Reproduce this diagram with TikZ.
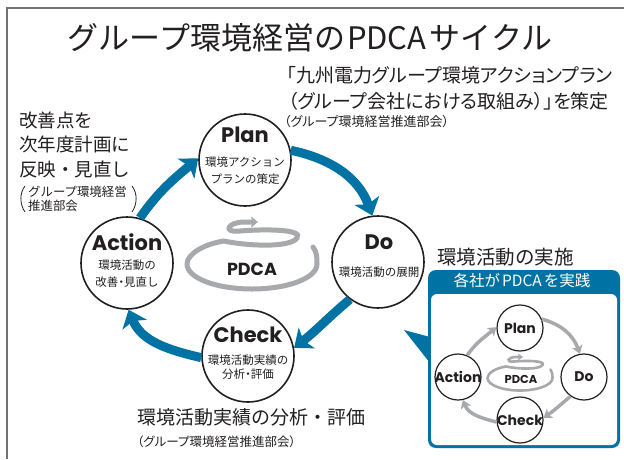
\documentclass[tikz,border=0pt]{standalone}
\usepackage{fontspec}
\setmainfont{Noto Sans CJK JP}
\newfontfamily\pfont{Noto Sans CJK JP}[RawFeature=+palt]
\newfontfamily\popfont{Poppins}
\usetikzlibrary{arrows.meta}
\definecolor{pblue}{RGB}{0,114,163}
\definecolor{sgray}{RGB}{168,169,173}
\definecolor{ink}{RGB}{35,31,32}
\newcommand\myfs[1]{\fontsize{#1}{#1}\selectfont}
\begin{document}
\begin{tikzpicture}[x=1pt,y=1pt,
  bigc/.style={circle,draw=ink,line width=1.6pt,fill=white,minimum size=92pt,inner sep=0pt},
  smallc/.style={circle,draw=ink,line width=1.2pt,fill=white,minimum size=46pt,inner sep=0pt},
  barrow/.style={draw=pblue,line width=9pt,-{Stealth[length=16pt,width=26pt,inset=4pt]}},
  garrow/.style={draw=sgray,line width=3.5pt,-{Stealth[length=8pt,width=11pt,inset=2pt]}},
  spiral/.style={draw=sgray,line width=#1,line cap=round},
  ttl/.style={font=\popfont\bfseries\myfs{21},text=ink,inner sep=0pt},
  sttl/.style={font=\popfont\bfseries\myfs{14},text=ink,inner sep=0pt},
  sub/.style={font=\myfs{11.5},text=ink,inner sep=0pt},
  txt/.style={text=ink,inner sep=0pt}
]
\useasboundingbox (0,0) rectangle (624,-459);
\fill[white] (0,0) rectangle (624,-459);
% frame
\draw[black!55,line width=1.3pt] (7,-459) -- (7,-8) -- (624,-8);

% title and texts
\node[txt,font=\myfs{31}] (title) at (310,-38) {グループ環境経営の\hspace{2pt}PDCA\hspace{3pt}サイクル};
\node[txt,anchor=east,font=\pfont\myfs{19}] (pl1) at (613,-75) {「九州電力グループ環境アクションプラン};
\node[txt,anchor=east,font=\pfont\myfs{19}] (pl2) at (609,-101) {（グループ会社における取組み）」を策定};
\node[txt,anchor=west,font=\pfont\myfs{13}] (pl3) at (284,-122) {（グループ環境経営推進部会）};

\node[txt,anchor=west,font=\myfs{18.5}] (ac1) at (19,-120) {改善点を};
\node[txt,anchor=west,font=\myfs{18.5}] (ac2) at (19,-144) {次年度計画に};
\node[txt,anchor=west,font=\myfs{18.5}] (ac3) at (19,-169) {反映・見直し};
\node[txt,anchor=west,font=\myfs{12.4}] (ac4) at (28,-192) {グループ環境経営};
\node[txt,anchor=west,font=\myfs{12.4}] (ac5) at (28,-205.5) {推進部会};
\draw[ink,line width=0.8pt] (25,-186) .. controls (19.5,-193) and (19.5,-204) .. (25,-212);
\draw[ink,line width=0.8pt] (132,-186) .. controls (137.5,-193) and (137.5,-204) .. (132,-212);

\node[txt,anchor=west,font=\myfs{19}] (ch1) at (137,-417) {環境活動実績の分析・評価};
\node[txt,anchor=west,font=\pfont\myfs{12.5}] (ch2) at (137,-442) {（グループ環境経営推進部会）};

\node[txt,anchor=west,font=\myfs{19.5}] (do1) at (437,-257) {環境活動の実施};

% central spiral
\begin{scope}[shift={(252,-264)}]
\draw[spiral=5pt,-{Stealth[length=7pt,width=11pt,inset=1.5pt]}]
  (61,17) .. controls (65,12) and (65,6) .. (65,0)
  .. controls (65,-14) and (36,-25) .. (0,-25)
  .. controls (-36,-25) and (-65,-14) .. (-65,0)
  .. controls (-65,10) and (-48,20) .. (-28,23)
  .. controls (-5,18) and (38,16) .. (45,26)
  .. controls (52,35) and (12,35) .. (-12,33)
  .. controls (-30,31) and (-24,42) .. (-8,42)
  -- (6,42);
\end{scope}
\node[txt,font=\popfont\bfseries\myfs{17.5}] (pdca) at (252,-269) {PDCA};

% big circles
\node[bigc] (plan) at (245,-160) {};
\node[bigc] (action) at (127,-263) {};
\node[bigc] (do) at (378,-262) {};
\node[bigc] (check) at (248,-356) {};

\node[ttl] (planT) at (245,-135) {Plan};
\node[sub] (planS1) at (245,-162) {環境アクション};
\node[sub] (planS2) at (245,-179) {プランの策定};
\node[ttl] (actionT) at (127,-242) {Action};
\node[sub] (actionS1) at (127,-265) {環境活動の};
\node[sub] (actionS2) at (127,-282) {改善{\pfont ・}見直し};
\node[ttl] (doT) at (379,-242) {Do};
\node[sub] (doS1) at (379,-272) {環境活動の展開};
\node[ttl] (checkT) at (248,-335) {Check};
\node[sub] (checkS1) at (248,-360.5) {環境活動実績の};
\node[sub] (checkS2) at (248,-374) {分析{\pfont ・}評価};

% blue arrows
\draw[barrow] (action.74) to[out=55,in=220] (plan.178);
\draw[barrow] (plan.12) to[out=-12,in=110] (do.97);
\draw[barrow] (do.233) to[out=220,in=38] (check.10);
\draw[barrow] (check.182) to[out=167,in=-68] (action.272);

% inset box
\fill[pblue] (404,-330) -- (430,-337) -- (430,-363) -- cycle;
\fill[pblue,rounded corners=8pt] (428,-270) rectangle (620,-448);
\fill[white,rounded corners=6pt] (431,-294) rectangle (617,-445);
\node[txt,text=white,font=\myfs{15.5}] (hdr) at (522,-281) {各社が\hspace{2pt}PDCA\hspace{2pt}を実践};

\begin{scope}[shift={(520,-378)},scale=0.5]
\draw[spiral=2.6pt,-{Stealth[length=5pt,width=7pt,inset=1pt]}]
  (61,17) .. controls (65,12) and (65,6) .. (65,0)
  .. controls (65,-14) and (36,-25) .. (0,-25)
  .. controls (-36,-25) and (-65,-14) .. (-65,0)
  .. controls (-65,10) and (-48,20) .. (-28,23)
  .. controls (-5,18) and (38,16) .. (45,26)
  .. controls (52,35) and (12,35) .. (-12,33)
  .. controls (-30,31) and (-24,42) .. (-8,42)
  -- (6,42);
\end{scope}
\node[txt,font=\popfont\bfseries\myfs{11.5}] (ipdca) at (521,-379) {PDCA};

\node[smallc] (ip) at (520,-328) {};
\node[smallc] (ia) at (458,-377) {};
\node[smallc] (id) at (584,-377) {};
\node[smallc] (ic) at (520,-420) {};
\node[sttl] (ipT) at (520,-328) {Plan};
\node[sttl] (iaT) at (458,-377) {Action};
\node[sttl] (idT) at (584,-377) {Do};
\node[sttl] (icT) at (520,-420) {Check};

\draw[garrow] (ip.22) to[out=-15,in=110] (id.100);
\draw[garrow] (id.235) to[out=220,in=35] (ic.5);
\draw[garrow] (ic.185) to[out=165,in=-68] (ia.282);
\draw[garrow] (ia.67) to[out=55,in=220] (ip.178);
\end{tikzpicture}
\end{document}
